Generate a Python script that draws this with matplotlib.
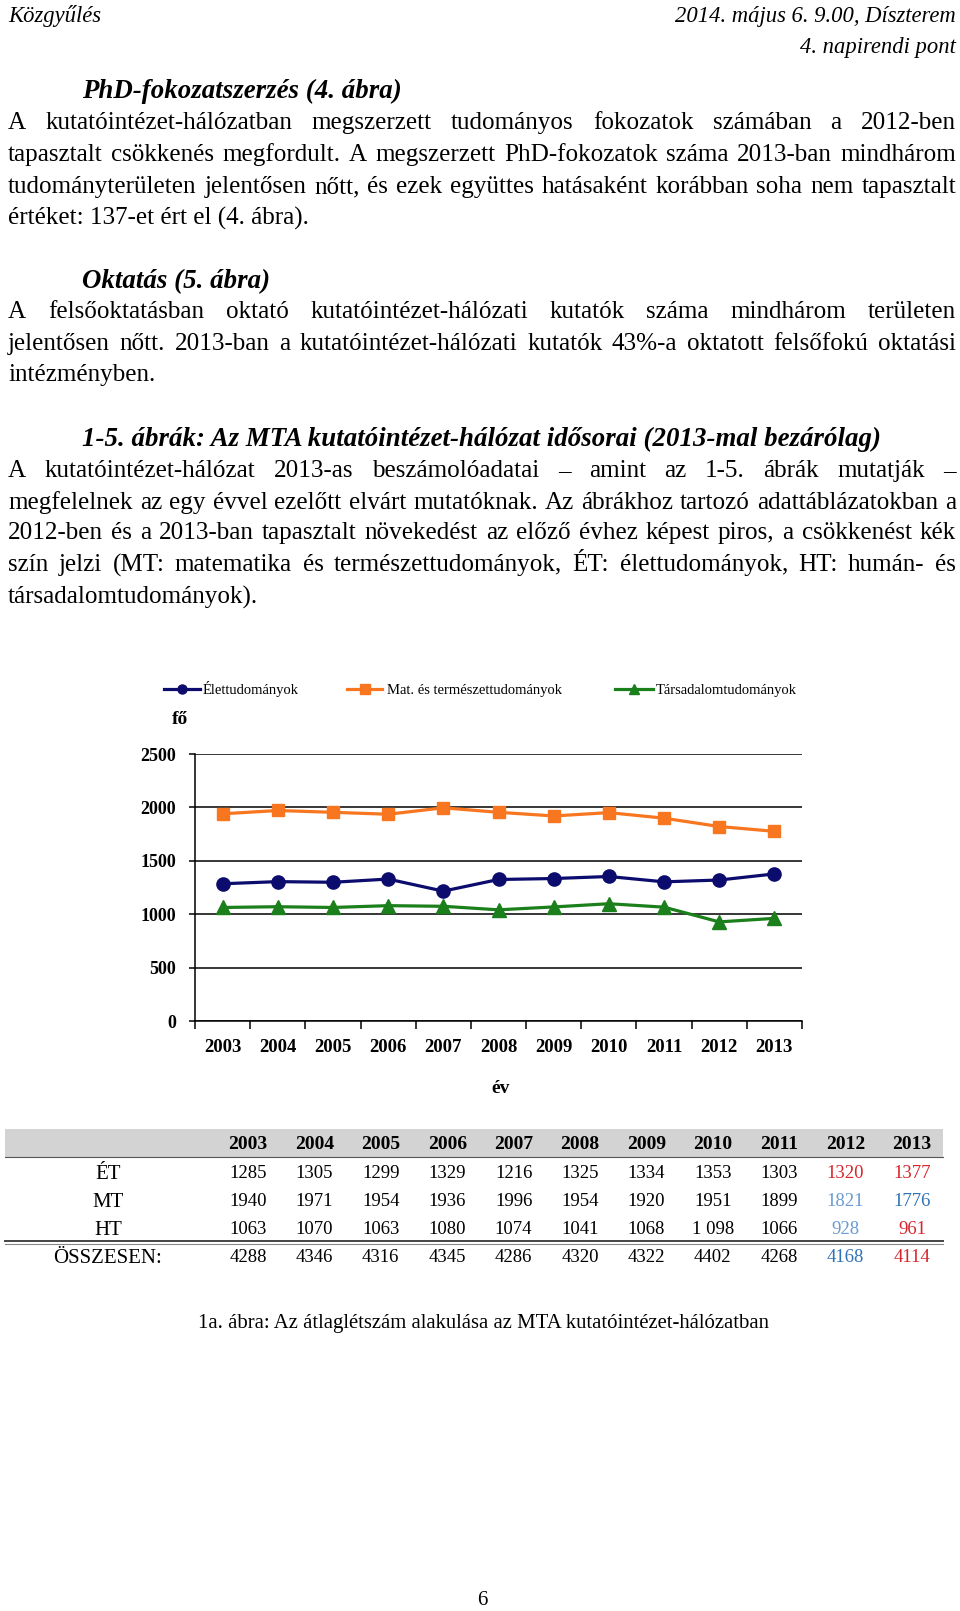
import matplotlib
matplotlib.use('Agg')
import matplotlib.pyplot as plt
from matplotlib.lines import Line2D
from matplotlib.patches import Rectangle
import numpy as np

W, H = 960, 1611

# ---------------- data ----------------
years = [2003, 2004, 2005, 2006, 2007, 2008, 2009, 2010, 2011, 2012, 2013]
et = [1285, 1305, 1299, 1329, 1216, 1325, 1334, 1353, 1303, 1320, 1377]
mt = [1940, 1971, 1954, 1936, 1996, 1954, 1920, 1951, 1899, 1821, 1776]
ht = [1063, 1070, 1063, 1080, 1074, 1041, 1068, 1098, 1066, 928, 961]
total = [4288, 4346, 4316, 4345, 4286, 4320, 4322, 4402, 4268, 4168, 4114]
series_names = ["Élettudományok", "Mat. és természettudományok", "Társadalomtudományok"]
row_labels = ["ÉT", "MT", "HT", "ÖSSZESEN:"]
yticks = [0, 500, 1000, 1500, 2000, 2500]

RED = "#d7262c"
BLUE = "#2f72b6"
LBLUE = "#6b9bd0"
# colours of 2012 / 2013 cells per row
cell_colors = [[RED, RED], [LBLUE, BLUE], [LBLUE, RED], [BLUE, RED]]

NAVY = "#0c0c6e"
ORANGE = "#f7761f"
GREEN = "#1b7f1b"

SERIF = ["Liberation Serif", "DejaVu Serif"]
plt.rcParams['font.family'] = SERIF

fig = plt.figure(figsize=(W / 100, H / 100), dpi=100)
renderer = fig.canvas.get_renderer()


def T(x, y, s, **kw):
    """y is the visual centre of the text line; placed on a common baseline."""
    fs = kw.get('fontsize', 10)
    yb = y + 0.33 * fs * 100 / 72
    kw['va'] = 'baseline'
    return fig.text(x / W, 1 - yb / H, s, **kw)


def measure(s, fs, **kw):
    t = fig.text(0, 0, s, fontsize=fs, **kw)
    w = t.get_window_extent(renderer).width
    t.remove()
    return w


def fit(s, target, **kw):
    return 10 * target / measure(s, 10, **kw)


# ---------------- header ----------------
fs_h = fit("Közgyűlés", 93, style='italic')
T(8, 15, "Közgyűlés", fontsize=fs_h, style='italic', ha='left')
T(956, 15, "2014. május 6. 9.00, Díszterem", fontsize=fs_h, style='italic', ha='right')
T(956, 46, "4. napirendi pont", fontsize=fs_h, style='italic', ha='right')

# ---------------- body text ----------------
fs_b = np.mean([fit("értéket: 137-et ért el (4. ábra).", 296),
                fit("intézményben.", 149),
                fit("társadalomtudományok).", 253)])
X0, X1 = 8.2, 956

para1 = ["A kutatóintézet-hálózatban megszerzett tudományos fokozatok számában a 2012-ben",
         "tapasztalt csökkenés megfordult. A megszerzett PhD-fokozatok száma 2013-ban mindhárom",
         "tudományterületen jelentősen nőtt, és ezek együttes hatásaként korábban soha nem tapasztalt",
         "értéket: 137-et ért el (4. ábra)."]
para2 = ["A felsőoktatásban oktató kutatóintézet-hálózati kutatók száma mindhárom területen",
         "jelentősen nőtt. 2013-ban a kutatóintézet-hálózati kutatók 43%-a oktatott felsőfokú oktatási",
         "intézményben."]
para3 = ["A kutatóintézet-hálózat 2013-as beszámolóadatai – amint az 1-5. ábrák mutatják –",
         "megfelelnek az egy évvel ezelőtt elvárt mutatóknak. Az ábrákhoz tartozó adattáblázatokban a",
         "2012-ben és a 2013-ban tapasztalt növekedést az előző évhez képest piros, a csökkenést kék",
         "szín jelzi (MT: matematika és természettudományok, ÉT: élettudományok, HT: humán- és",
         "társadalomtudományok)."]

# make sure the widest justified line fits
space_w = measure("a b", 10) - measure("ab", 10)
for line in para1[:-1] + para2[:-1] + para3[:-1]:
    words = line.split(' ')
    wsum = sum(measure(w, 10) for w in words)
    need = wsum + 0.5 * space_w * (len(words) - 1)
    fs_b = min(fs_b, 10 * (X1 - X0) / need)


def paragraph(lines, ys):
    for i, (line, y) in enumerate(zip(lines, ys)):
        if i == len(lines) - 1:
            T(X0, y, line, fontsize=fs_b, ha='left')
            continue
        words = line.split(' ')
        ws = [measure(w, fs_b) for w in words]
        gap = (X1 - X0 - sum(ws)) / (len(words) - 1)
        x = X0
        for w, wd in zip(words, ws):
            T(x, y, w, fontsize=fs_b, ha='left')
            x += wd + gap


head1 = "PhD-fokozatszerzés (4. ábra)"
head2 = "Oktatás (5. ábra)"
head3 = "1-5. ábrák: Az MTA kutatóintézet-hálózat idősorai (2013-mal bezárólag)"
fs_hd = np.mean([fit(head1, 320, style='italic', weight='bold'),
                 fit(head2, 187, style='italic', weight='bold'),
                 fit(head3, 804, style='italic', weight='bold')])
T(82, 89, head1, fontsize=fs_hd, style='italic', weight='bold', ha='left')
paragraph(para1, [121, 153, 185, 216])
T(82, 279, head2, fontsize=fs_hd, style='italic', weight='bold', ha='left')
paragraph(para2, [310, 342, 373])
T(82, 437, head3, fontsize=fs_hd, style='italic', weight='bold', ha='left')
paragraph(para3, [469, 501, 531, 563, 595])

# ---------------- chart ----------------
ax_l, ax_r, ax_t, ax_b = 195, 802, 754, 1021
ax = fig.add_axes([ax_l / W, 1 - ax_b / H, (ax_r - ax_l) / W, (ax_b - ax_t) / H])
x = np.arange(len(years))
l1, = ax.plot(x, et, color=NAVY, lw=2.3, marker='o', ms=9.5, zorder=3, clip_on=False)
l2, = ax.plot(x, mt, color=ORANGE, lw=2.3, marker='s', ms=8.5, zorder=3, clip_on=False)
l3, = ax.plot(x, ht, color=GREEN, lw=2.3, marker='^', ms=10, zorder=3, clip_on=False)
ax.set_xlim(-0.5, len(years) - 0.5)
ax.set_ylim(0, 2500)
ax.set_yticks(yticks)
ax.set_yticklabels([str(v) for v in yticks], fontsize=13, fontweight='bold')
ax.yaxis.grid(True, color='black', lw=1.1)
ax.set_axisbelow(True)
ax.set_xticks(x)
ax.set_xticklabels([str(y) for y in years], fontsize=13.5, fontweight='bold')
ax.set_xticks(np.arange(-0.5, len(years)), minor=True)
ax.tick_params(axis='x', which='major', length=0, pad=13)
ax.tick_params(axis='x', which='minor', length=6, width=1.1, direction='out', color='black')
ax.tick_params(axis='y', length=4.5, width=1.1, pad=9, color='black')
for s in ['top', 'right']:
    ax.spines[s].set_visible(False)
for s in ['left', 'bottom']:
    ax.spines[s].set_color('black')
    ax.spines[s].set_linewidth(1.1)

T(180, 718, "fő", fontsize=14, fontweight='bold', ha='center')
T(501, 1087, "év", fontsize=14, fontweight='bold', ha='center')

# legend (manual, figure coordinates)
leg_items = [(l1, 164, 200, 203), (l2, 347, 382, 387), (l3, 615, 653, 656)]
ly = 689
for (ln, a, b, tx), name in zip(leg_items, series_names):
    fig.add_artist(Line2D([a / W, b / W], [1 - ly / H, 1 - ly / H], color=ln.get_color(), lw=2.3,
                          transform=fig.transFigure))
    fig.add_artist(Line2D([(a + b) / 2 / W], [1 - ly / H], color=ln.get_color(), lw=0,
                          marker=ln.get_marker(), ms=6.5, transform=fig.transFigure))
    T(tx, ly, name, fontsize=10.5, ha='left')

# ---------------- table ----------------
fig.add_artist(Rectangle((5 / W, 1 - 1157 / H), (943 - 5) / W, (1157 - 1128.5) / H,
                         transform=fig.transFigure, facecolor='#d3d3d3', edgecolor='none'))
fig.add_artist(Line2D([5 / W, 943 / W], [1 - 1157 / H] * 2, color='#555555', lw=0.8,
                      transform=fig.transFigure))
fig.add_artist(Line2D([5 / W, 943 / W], [1 - 1240.5 / H] * 2, color='#444444', lw=1.4,
                      transform=fig.transFigure))
fig.add_artist(Line2D([5 / W, 943 / W], [1 - 1243.5 / H] * 2, color='#888888', lw=0.8,
                      transform=fig.transFigure))

col_x = np.linspace(248, 912, len(years))
for cx, yv in zip(col_x, years):
    T(cx, 1143, str(yv), fontsize=14, fontweight='bold', ha='center')

rows = [et, mt, ht, total]
row_y = [1172, 1200, 1228, 1256]
for r, (vals, lab, ry) in enumerate(zip(rows, row_labels, row_y)):
    T(108, ry, lab, fontsize=15, ha='center')
    for c, (cx, v) in enumerate(zip(col_x, vals)):
        s = str(v)
        if r == 2 and v >= 1000 and years[c] == 2010:
            s = f"{v // 1000} {v % 1000:03d}"
        col = 'black'
        if c >= len(years) - 2:
            col = cell_colors[r][c - (len(years) - 2)]
        T(cx, ry, s, fontsize=13.5, ha='center', color=col)

# ---------------- caption & page number ----------------
cap = "1a. ábra: Az átlaglétszám alakulása az MTA kutatóintézet-hálózatban"
T(483, 1321, cap, fontsize=fit(cap, 575), ha='center')
T(482, 1598, "6", fontsize=15, ha='center')

fig.savefig("out.png", dpi=100)
